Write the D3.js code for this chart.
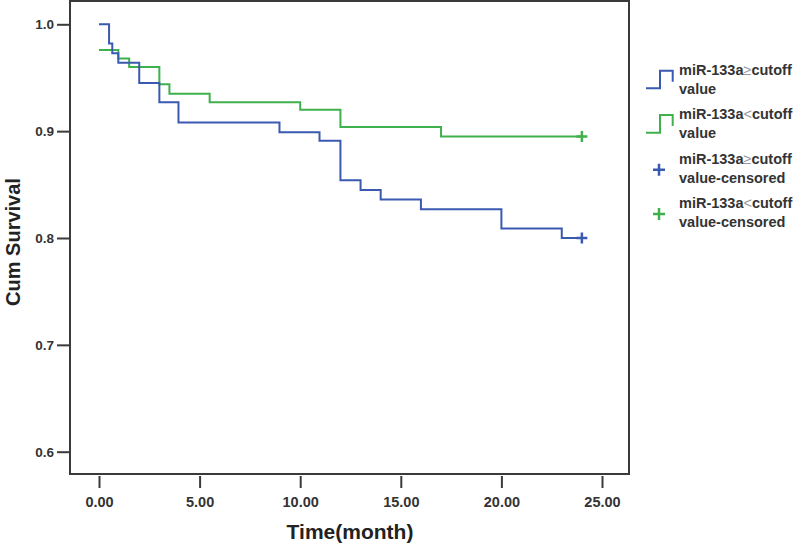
<!DOCTYPE html>
<html>
<head>
<meta charset="utf-8">
<script src="https://cdn.jsdelivr.net/npm/d3@7"></script>
<style>
  html, body { margin: 0; padding: 0; background: #fff; }
  svg { display: block; font-family: "Liberation Sans", Arial, sans-serif; }
</style>
</head>
<body>
<svg id="chart" width="800" height="546"></svg>
<script>
// ---- data ----
const highTimes = [0, 0.5, 0.66, 0.96, 2.0, 3.0, 3.95, 8.97, 10.96, 12.0, 13.0, 14.0, 16.0, 20.0, 23.0, 24.0];
const highSurv  = [1.0, 0.982, 0.973, 0.964, 0.945, 0.927, 0.908, 0.899, 0.891, 0.854, 0.845, 0.836, 0.827, 0.809, 0.800, 0.800];
const lowTimes  = [0, 0.96, 1.5, 3.0, 3.5, 5.5, 10.0, 12.0, 17.0, 24.0];
const lowSurv   = [0.976, 0.968, 0.960, 0.944, 0.935, 0.927, 0.920, 0.904, 0.895, 0.895];
const highCensorTimes = [24.0];
const highCensorSurv  = [0.800];
const lowCensorTimes  = [24.0];
const lowCensorSurv   = [0.895];
const xTicks = [0, 5, 10, 15, 20, 25];
const yTicks = [0.6, 0.7, 0.8, 0.9, 1.0];
const legendLine1 = ["miR-133a|≥|cutoff", "miR-133a|<|cutoff", "miR-133a|≥|cutoff", "miR-133a|<|cutoff"];
const legendLine2 = ["value", "value", "value-censored", "value-censored"];
const legendType  = ["step", "step", "plus", "plus"];
const xTitle = "Time(month)";
const yTitle = "Cum Survival";

const BLUE = "#3a59b0";
const GREEN = "#3fb14c";
const AXIS = "#3a3a3a";
const legendColor = [BLUE, GREEN, BLUE, GREEN];

const svg = d3.select("#chart");
const x = d3.scaleLinear().domain([0, 25]).range([99, 602]);
const y = d3.scaleLinear().domain([0.6, 1.0]).range([451.7, 24.3]);

// frame
const frame = {left: 70, right: 629, top: 1, bottom: 474};
svg.append("rect")
  .attr("x", frame.left).attr("y", frame.top)
  .attr("width", frame.right - frame.left).attr("height", frame.bottom - frame.top)
  .attr("fill", "none").attr("stroke", AXIS).attr("stroke-width", 2);

// y axis
const yAxis = svg.append("g").attr("transform", `translate(${frame.left},0)`)
  .call(d3.axisLeft(y).tickValues(yTicks).tickFormat(d3.format(".1f")).tickSize(13).tickPadding(3));
yAxis.select(".domain").remove();
yAxis.selectAll("line").attr("stroke", AXIS).attr("stroke-width", 2);
yAxis.selectAll("text").attr("fill", "#333").style("font-size", "13.5px").style("font-weight", "bold")
  .style("font-family", "'Liberation Sans', Arial, sans-serif");

// x axis
const xAxis = svg.append("g").attr("transform", `translate(0,${frame.bottom + 2})`)
  .call(d3.axisBottom(x).tickValues(xTicks).tickFormat(d3.format(".2f")).tickSize(12).tickPadding(9));
xAxis.select(".domain").remove();
xAxis.selectAll("line").attr("stroke", AXIS).attr("stroke-width", 2);
xAxis.selectAll("text").attr("fill", "#333").style("font-size", "14.5px").style("font-weight", "bold")
  .style("font-family", "'Liberation Sans', Arial, sans-serif");

// titles
svg.append("text").attr("x", 350).attr("y", 539).attr("text-anchor", "middle")
  .attr("fill", "#222").style("font-size", "21px").style("font-weight", "bold").text(xTitle);
svg.append("text").attr("transform", "translate(20,242) rotate(-90)").attr("text-anchor", "middle")
  .attr("fill", "#222").style("font-size", "20px").style("font-weight", "bold").text(yTitle);

// curves
const line = d3.line().x(d => x(d[0])).y(d => y(d[1])).curve(d3.curveStepAfter);
function curve(times, surv, color) {
  svg.append("path").datum(times.map((t, i) => [t, surv[i]]))
    .attr("d", line).attr("fill", "none").attr("stroke", color).attr("stroke-width", 2);
}
curve(lowTimes, lowSurv, GREEN);
curve(highTimes, highSurv, BLUE);

function plus(g, cx, cy, color, s) {
  g.append("path").attr("d", `M${cx - s},${cy}H${cx + s}M${cx},${cy - s}V${cy + s}`)
    .attr("stroke", color).attr("stroke-width", 2.5).attr("fill", "none");
}
lowCensorTimes.forEach((t, i) => plus(svg, x(t), y(lowCensorSurv[i]), GREEN, 5.5));
highCensorTimes.forEach((t, i) => plus(svg, x(t), y(highCensorSurv[i]), BLUE, 5.5));

// legend
const ly = d3.scaleLinear().domain([0, 3]).range([70, 203]);
legendLine1.forEach((lab, i) => {
  const cy = ly(i);
  const g = svg.append("g");
  if (legendType[i] === "step") {
    g.append("path").attr("d", `M646,${cy + 18.3}H660V${cy + 0.7}H672.7V${cy + 11.7}`)
      .attr("fill", "none").attr("stroke", legendColor[i]).attr("stroke-width", 2);
  } else {
    plus(g, 659, cy + 11, legendColor[i], 6);
  }
  const parts = lab.split("|");
  const t1 = g.append("text").attr("x", 679).attr("y", cy + 5).attr("fill", "#333")
    .style("font-size", "14.5px").style("font-weight", "bold");
  t1.append("tspan").text(parts[0]);
  t1.append("tspan").attr("fill", "#999").style("font-weight", "normal").text(parts[1]);
  t1.append("tspan").text(parts[2]);
  g.append("text").attr("x", 679).attr("y", cy + 24).attr("fill", "#333")
    .style("font-size", "14.5px").style("font-weight", "bold").text(legendLine2[i]);
});
</script>
</body>
</html>
